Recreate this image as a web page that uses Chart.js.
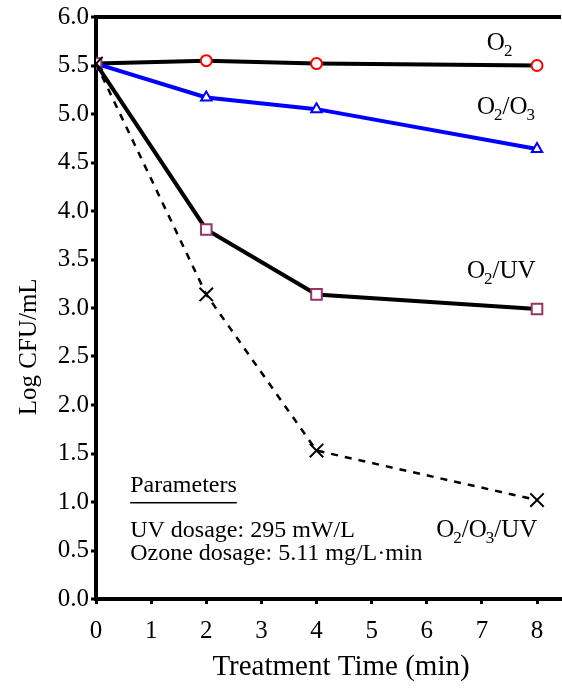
<!DOCTYPE html>
<html>
<head>
<meta charset="utf-8">
<script src="https://cdn.jsdelivr.net/npm/chart.js@4.4.1/dist/chart.umd.min.js"></script>
<style>
  html, body { margin: 0; padding: 0; background: #fff; }
  #wrap { width: 562px; height: 693px; position: relative; }
</style>
</head>
<body>
<div id="wrap"><canvas id="cfuChart"></canvas></div>
<script>
// Data
const times = [0, 2, 4, 8];
const o2 = [5.52, 5.55, 5.52, 5.50];
const o2o3 = [5.52, 5.17, 5.05, 4.64];
const o2uv = [5.52, 3.81, 3.14, 2.99];
const o2o3uv = [5.52, 3.14, 1.53, 1.02];
const xTicks = [0, 1, 2, 3, 4, 5, 6, 7, 8];
const yTicks = [0, 0.5, 1, 1.5, 2, 2.5, 3, 3.5, 4, 4.5, 5, 5.5, 6];

const serif = '"Liberation Serif", "DejaVu Serif", serif';

function pts(ys) {
    return times.map((t, i) => ({ x: t, y: ys[i] }));
}

// text pieces: [text, 'sub' or '']
const seriesLabels = [
    { x: 7.09, y: 5.66, parts: [['O', ''], ['2', 'sub']] },
    { x: 6.91, y: 5.00, parts: [['O', ''], ['2', 'sub'], ['/O', ''], ['3', 'sub']] },
    { x: 6.73, y: 3.31, parts: [['O', ''], ['2', 'sub'], ['/UV', '']] },
    { x: 6.17, y: 0.64, parts: [['O', ''], ['2', 'sub'], ['/O', ''], ['3', 'sub'], ['/UV', '']] }
];

const annotate = {
    id: 'annotate',
    afterDatasetsDraw(chart) {
        const ctx = chart.ctx;
        const xs = chart.scales.x, ys = chart.scales.y;
        ctx.save();
        ctx.fillStyle = '#000';
        ctx.textBaseline = 'alphabetic';
        ctx.textAlign = 'left';
        seriesLabels.forEach(l => {
            let px = xs.getPixelForValue(l.x);
            const py = ys.getPixelForValue(l.y);
            l.parts.forEach(p => {
                if (p[1] === 'sub') {
                    ctx.font = '17px ' + serif;
                    ctx.fillText(p[0], px - 1, py + 6);
                    px += ctx.measureText(p[0]).width - 1;
                } else {
                    ctx.font = '25px ' + serif;
                    ctx.fillText(p[0], px, py);
                    px += ctx.measureText(p[0]).width;
                }
            });
        });
        // parameters box
        const lx = xs.getPixelForValue(0.62);
        ctx.font = '24px ' + serif;
        ctx.fillText('Parameters', lx, ys.getPixelForValue(1.10));
        const w = ctx.measureText('Parameters').width;
        ctx.fillRect(lx, ys.getPixelForValue(0.99) - 1, w, 1.5);
        ctx.fillText('UV dosage: 295 mW/L', lx, ys.getPixelForValue(0.64));
        ctx.fillText('Ozone dosage: 5.11 mg/L\u00B7min', lx, ys.getPixelForValue(0.40));

        // axis titles
        ctx.textAlign = 'center';
        ctx.textBaseline = 'middle';
        ctx.font = '29px ' + serif;
        ctx.fillText('Treatment Time (min)', 341, 667);
        ctx.translate(29, ys.getPixelForValue(2.6));
        ctx.rotate(-Math.PI / 2);
        ctx.font = '25px ' + serif;
        ctx.fillText('Log CFU/mL', 0, 0);
        ctx.restore();
    }
};

const ctx = document.getElementById('cfuChart').getContext('2d');
new Chart(ctx, {
    type: 'line',
    data: {
        datasets: [
            {
                label: 'O2/O3/UV',
                data: pts(o2o3uv),
                borderColor: '#000',
                borderWidth: 2.5,
                borderDash: [7, 7],
                pointStyle: 'crossRot',
                pointRadius: 9.5,
                pointBorderWidth: 2,
                pointBorderColor: '#000',
                pointBackgroundColor: '#000',
                tension: 0
            },
            {
                label: 'O2/UV',
                data: pts(o2uv),
                borderColor: '#000',
                borderWidth: 4,
                pointStyle: 'rect',
                pointRadius: 7.5,
                pointBorderWidth: 2,
                pointBorderColor: '#993366',
                pointBackgroundColor: '#fff',
                tension: 0
            },
            {
                label: 'O2/O3',
                data: pts(o2o3),
                borderColor: '#0000ff',
                borderWidth: 4,
                pointStyle: 'triangle',
                pointRadius: 6,
                pointBorderWidth: 2,
                pointBorderColor: '#0000ff',
                pointBackgroundColor: '#fff',
                tension: 0
            },
            {
                label: 'O2',
                data: pts(o2),
                borderColor: '#000',
                borderWidth: 4,
                pointStyle: 'circle',
                pointRadius: 5.5,
                pointBorderWidth: 2,
                pointBorderColor: '#ff0000',
                pointBackgroundColor: '#fff',
                tension: 0
            }
        ]
    },
    options: {
        responsive: true,
        maintainAspectRatio: false,
        animation: false,
        layout: { autoPadding: false, padding: { top: 15, right: 1, left: 0, bottom: 0 } },
        plugins: {
            legend: { display: false },
            tooltip: { enabled: false }
        },
        scales: {
            x: {
                type: 'linear',
                min: 0,
                max: 8.435,
                afterBuildTicks: function(scale) {
                    scale.ticks = xTicks.map(v => ({ value: v }));
                },
                afterFit: function(scale) {
                    scale.height = 94;
                    scale.paddingLeft = 0;
                    scale.paddingRight = 0;
                },
                grid: {
                    drawOnChartArea: false,
                    drawTicks: true,
                    tickLength: 5,
                    tickWidth: 3,
                    tickColor: '#000'
                },
                border: { display: true, color: '#000', width: 4 },
                ticks: {
                    color: '#000',
                    padding: 12,
                    font: { family: serif, size: 25 }
                }
            },
            y: {
                min: 0,
                max: 6,
                afterBuildTicks: function(scale) {
                    scale.ticks = yTicks.map(v => ({ value: v }));
                },
                afterFit: function(scale) { scale.width = 96; },
                grid: {
                    drawTicks: true,
                    tickLength: 5,
                    tickWidth: 3,
                    tickColor: '#000',
                    lineWidth: 4,
                    color: function(c) {
                        return c.tick && c.tick.value === 6 ? '#000' : 'rgba(0,0,0,0)';
                    }
                },
                border: { display: true, color: '#000', width: 4 },
                ticks: {
                    color: '#000',
                    padding: 2,
                    font: { family: serif, size: 25 },
                    callback: function(v) { return v.toFixed(1); }
                }
            }
        }
    },
    plugins: [annotate]
});
</script>
</body>
</html>
